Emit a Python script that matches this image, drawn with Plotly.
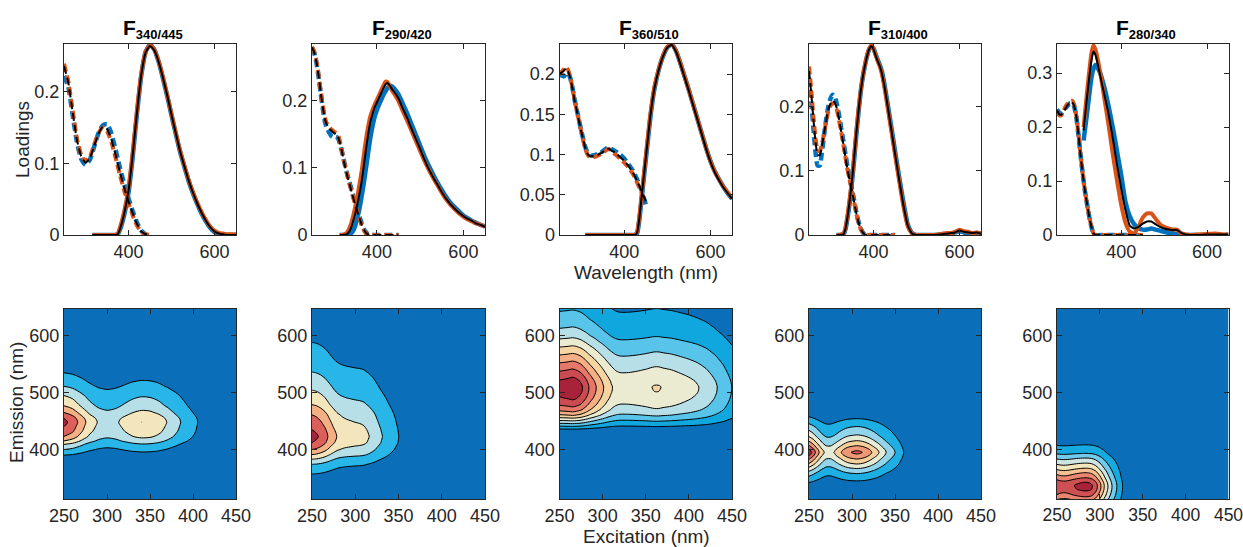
import numpy as np
import plotly.graph_objects as go

# ---------------- DATA ----------------
TITLES = ["340/445", "290/420", "360/510", "310/400", "280/340"]

# Panel 1 : F340/445
EX_WL_1 = [250, 260, 270, 280, 290, 300, 310, 320, 330, 340, 350, 360, 370, 380, 390, 400, 410, 420, 430, 440, 450]
EX_BLACK_1 = [0.236, 0.213, 0.172, 0.133, 0.110, 0.101, 0.107, 0.124, 0.141, 0.151, 0.148, 0.134, 0.112, 0.088, 0.066, 0.047, 0.030, 0.015, 0.005, 0.001, 0.0]
EX_ORANGE_1 = [0.239, 0.215, 0.174, 0.135, 0.112, 0.103, 0.109, 0.126, 0.142, 0.150, 0.145, 0.130, 0.108, 0.084, 0.062, 0.044, 0.027, 0.013, 0.004, 0.001, 0.0]
EX_BLUE_1 = [0.222, 0.207, 0.168, 0.130, 0.106, 0.098, 0.105, 0.123, 0.142, 0.153, 0.155, 0.142, 0.119, 0.094, 0.071, 0.051, 0.033, 0.017, 0.006, 0.001, 0.0]
EM_WL_1 = [316, 330, 345, 360, 370, 375, 380, 390, 400, 410, 420, 430, 440, 450, 460, 470, 480, 490, 500, 510,
           520, 530, 540, 550, 560, 570, 580, 590, 600, 610, 620, 630, 640, 650]
EM_BLACK_1 = [0, 0, 0, 0, 0, 0.001, 0.008, 0.030, 0.062, 0.113, 0.173, 0.225, 0.255, 0.264, 0.258, 0.242, 0.220, 0.195, 0.168, 0.142,
              0.117, 0.096, 0.076, 0.059, 0.044, 0.031, 0.020, 0.011, 0.005, 0.002, 0.001, 0, 0, 0]
EM_ORANGE_1 = [0, 0, 0, 0, 0, 0.002, 0.010, 0.033, 0.066, 0.117, 0.176, 0.226, 0.256, 0.265, 0.259, 0.243, 0.221, 0.196, 0.169, 0.143,
               0.118, 0.097, 0.077, 0.060, 0.045, 0.032, 0.021, 0.012, 0.006, 0.003, 0.002, 0.001, 0.001, 0.001]
EM_BLUE_1 = [0, 0, 0, 0, 0, 0.001, 0.007, 0.028, 0.059, 0.110, 0.171, 0.224, 0.256, 0.266, 0.259, 0.242, 0.219, 0.194, 0.167, 0.141,
             0.116, 0.095, 0.075, 0.058, 0.043, 0.030, 0.019, 0.010, 0.004, 0.001, 0, 0, 0, 0]
# emission profile
EEM_EM_WL_1 = [310, 360, 375, 390, 400, 409, 415, 423, 432, 440, 448, 455, 465, 477, 495, 511, 535, 560, 590, 620, 650]
EEM_EM_1 = [0, 0, 0.010, 0.042, 0.085, 0.127, 0.169, 0.212, 0.240, 0.254, 0.265, 0.254, 0.212, 0.169, 0.127, 0.085, 0.042, 0.018, 0.006, 0.001, 0]

# Panel 2 : F290/420
EX_WL_2 = [250, 255, 260, 265, 270, 275, 280, 285, 290, 295, 300, 305, 310, 315, 320, 325, 330, 335, 340, 345,
           350, 355, 360, 365, 370, 375, 380, 385, 400, 420, 440, 450]
EX_BLACK_2 = [0.279, 0.272, 0.258, 0.238, 0.213, 0.190, 0.172, 0.163, 0.158, 0.155, 0.152, 0.150, 0.146, 0.136, 0.122, 0.106, 0.092, 0.080, 0.068, 0.056,
              0.045, 0.035, 0.025, 0.015, 0.008, 0.003, 0.001, 0, 0, 0, 0, 0]
EX_ORANGE_2 = [0.280, 0.273, 0.260, 0.240, 0.215, 0.192, 0.174, 0.165, 0.160, 0.157, 0.154, 0.152, 0.149, 0.138, 0.123, 0.107, 0.093, 0.080, 0.068, 0.056,
               0.045, 0.034, 0.024, 0.014, 0.007, 0.002, 0.001, 0, 0, 0, 0, 0]
EX_BLUE_2 = [0.278, 0.271, 0.257, 0.236, 0.211, 0.188, 0.168, 0.158, 0.152, 0.147, 0.145, 0.146, 0.144, 0.135, 0.122, 0.107, 0.094, 0.082, 0.071, 0.059,
             0.048, 0.037, 0.027, 0.017, 0.009, 0.004, 0.001, 0, 0, 0, 0, 0]
EM_WL_2 = [314, 320, 330, 335, 340, 345, 350, 355, 360, 365, 370, 375, 380, 385, 390, 395, 400, 405, 410, 415,
           420, 425, 430, 435, 440, 450, 460, 470, 480, 490, 500, 510, 520, 530, 540, 550, 560, 570, 580, 590,
           600, 610, 620, 630, 640, 650]
EM_BLACK_2 = [0, 0, 0.001, 0.004, 0.010, 0.020, 0.032, 0.046, 0.062, 0.080, 0.104, 0.128, 0.150, 0.168, 0.180, 0.190, 0.197, 0.204, 0.211, 0.218,
              0.224, 0.226, 0.222, 0.217, 0.213, 0.203, 0.188, 0.174, 0.158, 0.143, 0.128, 0.112, 0.098, 0.086, 0.075, 0.064, 0.054, 0.046, 0.039, 0.033,
              0.028, 0.024, 0.021, 0.017, 0.015, 0.012]
EM_ORANGE_2 = [0, 0, 0.003, 0.008, 0.016, 0.028, 0.042, 0.058, 0.076, 0.096, 0.120, 0.143, 0.162, 0.177, 0.186, 0.194, 0.201, 0.208, 0.215, 0.222,
               0.228, 0.227, 0.221, 0.215, 0.210, 0.199, 0.184, 0.170, 0.155, 0.140, 0.125, 0.110, 0.097, 0.085, 0.074, 0.063, 0.053, 0.045, 0.038, 0.032,
               0.027, 0.023, 0.020, 0.017, 0.015, 0.012]
EM_BLUE_2 = [0, 0, 0, 0, 0.002, 0.006, 0.014, 0.026, 0.040, 0.058, 0.078, 0.100, 0.123, 0.145, 0.162, 0.176, 0.186, 0.194, 0.201, 0.208,
             0.214, 0.219, 0.222, 0.221, 0.218, 0.209, 0.195, 0.181, 0.165, 0.149, 0.133, 0.117, 0.103, 0.090, 0.078, 0.067, 0.057, 0.048, 0.041, 0.035,
             0.029, 0.025, 0.021, 0.018, 0.015, 0.013]
EEM_EM_WL_2 = [310, 340, 350, 357, 366, 374, 383, 391, 400, 412, 423, 435, 448, 461, 479, 504, 536, 560, 588, 620, 650]
EEM_EM_2 = [0, 0.004, 0.018, 0.036, 0.055, 0.072, 0.108, 0.143, 0.179, 0.215, 0.226, 0.215, 0.197, 0.179, 0.143, 0.108, 0.072, 0.052, 0.036, 0.022, 0.013]

# Panel 3 : F360/510
EX_WL_3 = [250, 255, 260, 265, 270, 275, 280, 285, 290, 295, 300, 305, 310, 315, 320,
           330, 340, 350, 360, 365, 370, 380, 390, 400, 410, 420, 430, 440, 450]
EX_BLACK_3 = [0.200, 0.202, 0.204, 0.207, 0.203, 0.195, 0.182, 0.167, 0.155, 0.142, 0.130, 0.118, 0.108, 0.101, 0.098,
              0.098, 0.100, 0.103, 0.107, 0.107, 0.105, 0.102, 0.097, 0.092, 0.086, 0.078, 0.067, 0.055, 0.042]
EX_ORANGE_3 = [0.199, 0.203, 0.206, 0.209, 0.205, 0.196, 0.183, 0.168, 0.155, 0.142, 0.129, 0.117, 0.107, 0.100, 0.097,
               0.097, 0.099, 0.102, 0.106, 0.107, 0.104, 0.100, 0.095, 0.090, 0.084, 0.076, 0.065, 0.053, 0.040]
EX_BLUE_3 = [0.197, 0.199, 0.197, 0.200, 0.201, 0.195, 0.183, 0.168, 0.156, 0.143, 0.131, 0.119, 0.109, 0.102, 0.099,
             0.099, 0.101, 0.104, 0.108, 0.109, 0.107, 0.104, 0.100, 0.095, 0.088, 0.080, 0.069, 0.056, 0.038]
EM_WL_3 = [310, 330, 350, 370, 390, 410, 420, 425, 430, 435, 440, 445, 450, 455, 460, 465, 470,
           480, 490, 500, 510, 520, 530, 540, 550, 560, 570, 580, 590, 600, 610, 620, 630, 640, 650]
EM_BLACK_3 = [0, 0, 0, 0, 0, 0, 0, 0, 0.003, 0.020, 0.045, 0.070, 0.095, 0.120, 0.145, 0.165, 0.182,
              0.205, 0.222, 0.233, 0.236, 0.228, 0.213, 0.196, 0.179, 0.161, 0.143, 0.125, 0.107, 0.091, 0.078, 0.068, 0.059, 0.052, 0.045]
EM_ORANGE_3 = [0, 0, 0, 0, 0, 0, 0, 0, 0.004, 0.022, 0.047, 0.072, 0.097, 0.122, 0.147, 0.167, 0.184,
               0.206, 0.223, 0.234, 0.237, 0.229, 0.214, 0.197, 0.180, 0.162, 0.144, 0.126, 0.108, 0.092, 0.079, 0.069, 0.060, 0.053, 0.046]
EM_BLUE_3 = [0, 0, 0, 0, 0, 0, 0, 0, 0.002, 0.018, 0.043, 0.068, 0.093, 0.118, 0.143, 0.164, 0.181,
             0.205, 0.222, 0.233, 0.237, 0.229, 0.214, 0.197, 0.180, 0.162, 0.144, 0.126, 0.108, 0.092, 0.079, 0.069, 0.060, 0.052, 0.045]
EEM_EM_WL_3 = EM_WL_3
EEM_EM_3 = EM_BLACK_3

# Panel 4 : F310/400
EX_WL_4 = [250, 255, 260, 265, 270, 275, 280, 285, 290, 295, 300, 305, 310, 315, 320, 325, 330, 335, 340, 345,
           350, 355, 360, 365, 370, 375, 380, 390, 410, 430, 450]
EX_BLACK_4 = [0.255, 0.222, 0.182, 0.146, 0.125, 0.124, 0.138, 0.158, 0.178, 0.195, 0.204, 0.209, 0.206, 0.196, 0.180, 0.161, 0.141, 0.120, 0.100, 0.084,
              0.068, 0.051, 0.034, 0.020, 0.010, 0.004, 0.001, 0, 0, 0, 0]
EX_ORANGE_4 = [0.262, 0.228, 0.186, 0.152, 0.132, 0.130, 0.141, 0.158, 0.176, 0.192, 0.201, 0.205, 0.203, 0.194, 0.178, 0.160, 0.140, 0.120, 0.100, 0.084,
               0.068, 0.051, 0.034, 0.020, 0.010, 0.004, 0.001, 0, 0, 0, 0]
EX_BLUE_4 = [0.245, 0.210, 0.168, 0.130, 0.108, 0.108, 0.128, 0.155, 0.180, 0.200, 0.212, 0.218, 0.215, 0.203, 0.186, 0.166, 0.146, 0.125, 0.105, 0.088,
             0.071, 0.054, 0.036, 0.021, 0.011, 0.004, 0.001, 0, 0, 0, 0]
EM_WL_4 = [314, 320, 330, 335, 340, 345, 350, 355, 360, 365, 370, 375, 380, 385, 390, 395, 400, 405, 410, 415,
           420, 425, 430, 440, 450, 460, 470, 480, 490, 500, 520, 540, 560, 570, 580, 590, 600, 610, 620, 630, 640, 650]
EM_BLACK_4 = [0, 0, 0.001, 0.010, 0.030, 0.055, 0.085, 0.120, 0.158, 0.192, 0.222, 0.245, 0.263, 0.278, 0.289, 0.294, 0.289, 0.279, 0.270, 0.262,
              0.250, 0.233, 0.213, 0.170, 0.127, 0.085, 0.045, 0.014, 0.002, 0, 0, 0, 0.001, 0.002, 0.003, 0.004, 0.007, 0.005, 0.004, 0.003, 0.004, 0.002]
EM_ORANGE_4 = [0, 0, 0.002, 0.012, 0.033, 0.058, 0.088, 0.123, 0.160, 0.194, 0.223, 0.246, 0.264, 0.279, 0.290, 0.295, 0.290, 0.280, 0.270, 0.261,
               0.249, 0.231, 0.211, 0.168, 0.125, 0.083, 0.043, 0.013, 0.002, 0, 0, 0, 0.002, 0.003, 0.003, 0.005, 0.008, 0.006, 0.005, 0.003, 0.004, 0.003]
EM_BLUE_4 = [0, 0, 0.001, 0.009, 0.028, 0.052, 0.082, 0.117, 0.155, 0.190, 0.221, 0.245, 0.263, 0.278, 0.289, 0.293, 0.290, 0.281, 0.272, 0.264,
             0.253, 0.236, 0.216, 0.174, 0.131, 0.089, 0.049, 0.016, 0.003, 0, 0, 0, 0.001, 0.001, 0.002, 0.004, 0.006, 0.004, 0.003, 0.002, 0.003, 0.001]
EEM_EM_WL_4 = [310, 325, 335, 345, 358, 367, 375, 384, 390, 395, 400, 406, 415, 425, 440, 454, 465, 480, 500, 650]
EEM_EM_4 = [0, 0.003, 0.018, 0.0485, 0.097, 0.146, 0.194, 0.243, 0.280, 0.297, 0.280, 0.243, 0.194, 0.146, 0.097, 0.0485, 0.020, 0.005, 0, 0]

# Panel 5 : F280/340
EX_WL_5 = [250, 255, 260, 265, 270, 275, 280, 285, 290, 295, 300, 305, 310, 315, 320, 325, 330, 335, 340,
           360, 380, 400, 420, 450]
EX_BLACK_5 = [0.231, 0.224, 0.223, 0.228, 0.235, 0.241, 0.245, 0.246, 0.240, 0.220, 0.186, 0.148, 0.113, 0.083, 0.058, 0.035, 0.016, 0.003, 0,
              0, 0, 0, 0, 0]
EX_ORANGE_5 = [0.228, 0.222, 0.222, 0.230, 0.238, 0.244, 0.248, 0.249, 0.242, 0.222, 0.187, 0.149, 0.113, 0.083, 0.058, 0.035, 0.016, 0.003, 0,
               0, 0, 0, 0, 0]
EX_BLUE_5 = [0.233, 0.227, 0.225, 0.229, 0.235, 0.240, 0.244, 0.244, 0.238, 0.219, 0.186, 0.148, 0.113, 0.083, 0.058, 0.035, 0.016, 0.003, 0,
             0, 0, 0, 0, 0]
EM_WL_5 = [312, 320, 330, 335, 340, 350, 360, 370, 380, 390, 400, 410, 420, 430, 440, 450, 460, 470, 480, 490,
           500, 510, 520, 530, 540, 550, 560, 580, 600, 620, 640, 650]
EM_BLACK_5 = [0.194, 0.255, 0.322, 0.340, 0.333, 0.298, 0.262, 0.225, 0.180, 0.130, 0.085, 0.045, 0.017, 0.012, 0.015, 0.021, 0.025, 0.025, 0.020, 0.015,
              0.012, 0.010, 0.009, 0.009, 0.004, 0.001, 0, 0, 0.001, 0.001, 0.001, 0.001]
EM_ORANGE_5 = [0.200, 0.265, 0.335, 0.352, 0.343, 0.305, 0.255, 0.205, 0.150, 0.100, 0.055, 0.022, 0.006, 0.003, 0.015, 0.032, 0.040, 0.040, 0.030, 0.020,
               0.015, 0.012, 0.010, 0.010, 0.003, 0.001, 0, 0.001, 0.002, 0.003, 0.001, 0.002]
EM_BLUE_5 = [0.175, 0.225, 0.290, 0.308, 0.315, 0.302, 0.275, 0.240, 0.200, 0.155, 0.110, 0.060, 0.034, 0.020, 0.013, 0.010, 0.010, 0.012, 0.010, 0.008,
             0.006, 0.004, 0.003, 0.002, 0, 0, 0, 0, 0, 0, 0, 0]
EEM_EM_WL_5 = [310, 320, 330, 337, 342, 350, 359, 367, 376, 385, 393, 408, 420, 440, 460, 480, 500, 530, 560, 650]
EEM_EM_5 = [0.25, 0.30, 0.335, 0.340, 0.327, 0.286, 0.245, 0.204, 0.163, 0.122, 0.082, 0.041, 0.020, 0.015, 0.020, 0.020, 0.012, 0.008, 0, 0]

PANELS = [
    (EX_WL_1, EX_BLUE_1, EX_ORANGE_1, EX_BLACK_1, EM_WL_1, EM_BLUE_1, EM_ORANGE_1, EM_BLACK_1, EEM_EM_WL_1, EEM_EM_1),
    (EX_WL_2, EX_BLUE_2, EX_ORANGE_2, EX_BLACK_2, EM_WL_2, EM_BLUE_2, EM_ORANGE_2, EM_BLACK_2, EEM_EM_WL_2, EEM_EM_2),
    (EX_WL_3, EX_BLUE_3, EX_ORANGE_3, EX_BLACK_3, EM_WL_3, EM_BLUE_3, EM_ORANGE_3, EM_BLACK_3, EEM_EM_WL_3, EEM_EM_3),
    (EX_WL_4, EX_BLUE_4, EX_ORANGE_4, EX_BLACK_4, EM_WL_4, EM_BLUE_4, EM_ORANGE_4, EM_BLACK_4, EEM_EM_WL_4, EEM_EM_4),
    (EX_WL_5, EX_BLUE_5, EX_ORANGE_5, EX_BLACK_5, EM_WL_5, EM_BLUE_5, EM_ORANGE_5, EM_BLACK_5, EEM_EM_WL_5, EEM_EM_5),
]

TOP_YMAX = [0.2667, 0.284, 0.2373, 0.297, 0.354]
TOP_YTICKS = [[0, 0.1, 0.2], [0, 0.1, 0.2], [0, 0.05, 0.1, 0.15, 0.2], [0, 0.1, 0.2], [0, 0.1, 0.2, 0.3]]
TOP_XTICKS = [400, 600]
BOT_XTICKS = [250, 300, 350, 400, 450]
BOT_YTICKS = [400, 500, 600]
LEVEL_STEP = [0.01, 0.01, 0.005, 0.01, 0.01]

# ---------------- STYLE / LAYOUT ----------------
# the page body margin is removed by a small post-script, so the figure
# fills the whole 1243x547 window
OFF = 0
W, H = 1243, 547
COL_X = [(64, 236), (312, 485), (559.5, 732), (809, 981), (1057, 1228.5)]
TOP_Y = (44, 235)
BOT_Y = (309, 499)
FONT = "Liberation Sans, Arial, Helvetica, sans-serif"
AX_COLOR = "#262626"
BLUE, ORANGE, BLACK = "#0072BD", "#D95319", "#000000"
CSCALE = [[0.0, "#0a6fb8"], [0.10, "#0ba3dc"], [0.17, "#29b6e8"], [0.31, "#a8dbeb"],
          [0.41, "#e2ebdd"], [0.48, "#f2ebc5"], [0.56, "#f5d4a0"], [0.66, "#f5b386"],
          [0.81, "#e2685f"], [1.0, "#a8233a"]]


def fx(px):
    return (px - OFF) / W


def fy(py):
    return 1 - (py - OFF) / H


def fmt(v):
    return "0" if v == 0 else ("%g" % v)


fig = go.Figure()
layout = dict(width=W, height=H, margin=dict(l=0, r=0, t=0, b=0, autoexpand=False),
              paper_bgcolor="white", plot_bgcolor="white", showlegend=False,
              font=dict(family=FONT, size=18, color=AX_COLOR))

axis_common = dict(showline=True, linecolor=AX_COLOR, linewidth=1, mirror="ticks",
                   ticks="inside", ticklen=5, tickwidth=1, tickcolor=AX_COLOR,
                   showgrid=False, zeroline=False, automargin=False,
                   ticklabeloverflow="allow",
                   tickfont=dict(family=FONT, size=18, color=AX_COLOR))

annotations = []
for i, (exw, exb, exo, exk, emw, emb, emo, emk, eemw, eem) in enumerate(PANELS):
    kt = i + 1
    kb = i + 6
    xt = "x" if kt == 1 else "x%d" % kt
    yt = "y" if kt == 1 else "y%d" % kt
    xb = "x%d" % kb
    yb = "y%d" % kb
    x0, x1 = COL_X[i]

    # --- top: loadings ---
    for col, wdt, ex_vals, em_vals in [(BLUE, 4.5, exb, emb), (ORANGE, 4.0, exo, emo), (BLACK, 2.0, exk, emk)]:
        fig.add_trace(go.Scatter(x=exw, y=ex_vals, mode="lines", xaxis=xt, yaxis=yt,
                                 line=dict(color=col, width=wdt, dash="8px,4px", shape="spline", smoothing=0.5),
                                 hoverinfo="skip"))
        fig.add_trace(go.Scatter(x=emw, y=em_vals, mode="lines", xaxis=xt, yaxis=yt,
                                 line=dict(color=col, width=wdt, shape="spline", smoothing=0.5),
                                 hoverinfo="skip"))

    layout["xaxis" if kt == 1 else "xaxis%d" % kt] = dict(
        axis_common, domain=[fx(x0), fx(x1)], range=[250, 650], anchor=yt,
        tickmode="array", tickvals=TOP_XTICKS, ticktext=[str(v) for v in TOP_XTICKS])
    layout["yaxis" if kt == 1 else "yaxis%d" % kt] = dict(
        axis_common, domain=[fy(TOP_Y[1]), fy(TOP_Y[0])], range=[0, TOP_YMAX[i]], anchor=xt,
        tickmode="array", tickvals=TOP_YTICKS[i], ticktext=[fmt(v) for v in TOP_YTICKS[i]])

    # --- bottom: EEM contour (excitation loading x emission profile) ---
    Z = np.outer(np.array(eem), np.array(exk))
    step = LEVEL_STEP[i]
    zmax = Z.max()
    nlev = int(np.floor(zmax / step + 1e-9))
    fig.add_trace(go.Contour(x=exw, y=eemw, z=Z, xaxis=xb, yaxis=yb,
                             colorscale=CSCALE, showscale=False,
                             contours=dict(start=step, end=nlev * step + step * 0.01, size=step,
                                           coloring="fill", showlines=True),
                             line=dict(color="black", width=1), line_smoothing=0.85,
                             hoverinfo="skip"))
    bx = dict(axis_common, domain=[fx(x0), fx(x1)], range=[250, 450], anchor=yb,
              tickmode="array", tickvals=BOT_XTICKS, ticktext=[str(v) for v in BOT_XTICKS])
    if i == 4:
        bx["tickfont"] = dict(family=FONT, size=17.5, color=AX_COLOR)
    layout["xaxis%d" % kb] = bx
    layout["yaxis%d" % kb] = dict(
        axis_common, domain=[fy(BOT_Y[1]), fy(BOT_Y[0])], range=[313, 647], anchor=xb,
        tickmode="array", tickvals=BOT_YTICKS, ticktext=[str(v) for v in BOT_YTICKS])

    # title
    annotations.append(dict(text="<b>F<sub><span style='font-size:13px'>%s</span></sub></b>" % TITLES[i],
                            xref="paper", yref="paper",
                            x=fx((x0 + x1) / 2 + 3), y=fy(TOP_Y[0]), xanchor="center", yanchor="bottom",
                            yshift=0, showarrow=False, font=dict(family=FONT, size=21, color="black")))

annotations += [
    dict(text="Loadings", xref="paper", yref="paper", x=fx(22), y=fy(140), textangle=-90,
         xanchor="center", yanchor="middle", showarrow=False, font=dict(family=FONT, size=19, color=AX_COLOR)),
    dict(text="Wavelength (nm)", xref="paper", yref="paper", x=fx(646), y=fy(272),
         xanchor="center", yanchor="middle", showarrow=False, font=dict(family=FONT, size=19, color=AX_COLOR)),
    dict(text="Emission (nm)", xref="paper", yref="paper", x=fx(16), y=fy(403), textangle=-90,
         xanchor="center", yanchor="middle", showarrow=False, font=dict(family=FONT, size=19, color=AX_COLOR)),
    dict(text="Excitation (nm)", xref="paper", yref="paper", x=fx(646), y=fy(536),
         xanchor="center", yanchor="middle", showarrow=False, font=dict(family=FONT, size=19, color=AX_COLOR)),
]
layout["annotations"] = annotations
fig.update_layout(**layout)
fig.write_html("out.html",
               config={"displayModeBar": False},
               post_script="document.body.style.margin='0px'; document.body.style.overflow='hidden';")
